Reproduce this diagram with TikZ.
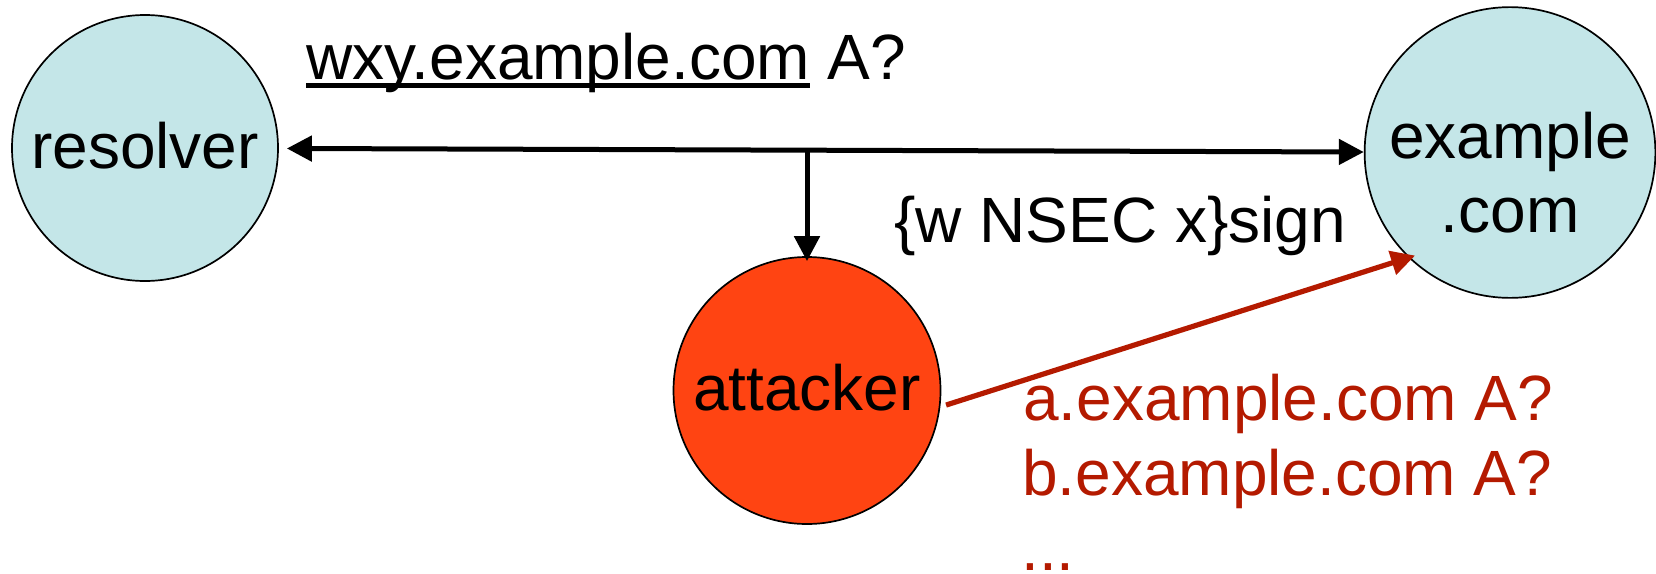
\documentclass[tikz,border=0pt]{standalone}
\usepackage{fontspec}
\setmainfont{Liberation Sans}
\usetikzlibrary{arrows.meta}
\definecolor{nodeblue}{RGB}{196,230,232}
\definecolor{attackfill}{RGB}{255,68,18}
\definecolor{queryred}{RGB}{180,26,0}
\newsavebox\ulinebox
\newcommand{\ulinetext}[1]{\sbox\ulinebox{#1}\rlap{\rule[-8.7pt]{\wd\ulinebox}{4.4pt}}\usebox\ulinebox}
\begin{document}
\begin{tikzpicture}[x=1pt,y=-1pt,
  bigfont/.style={font=\fontsize{64}{74}\selectfont},
  host/.style={circle, draw=black, line width=1.7pt, inner sep=0pt, bigfont},
  onetext/.style={text height=40.5pt, text depth=0pt},
  lbl/.style={bigfont, inner sep=0pt, anchor=base west},
  blackarrow/.style={line width=5pt, draw=black},
  redarrow/.style={line width=5.2pt, draw=queryred, -{Triangle[length=24pt,width=24pt]}}
]
\useasboundingbox (0,0) rectangle (1656,573);

\node[host, onetext, fill=nodeblue, minimum size=266pt] (resolver) at (145,148) {resolver};
\node[host, onetext, fill=attackfill, minimum size=267pt] (attacker) at (807,390.5) {attacker};
\node[host, fill=nodeblue, minimum size=288pt, align=center] (example) at (1510,152.5) {\rule{0pt}{87.6pt}example\\.com};

\coordinate (split) at (807,150);

\draw[blackarrow, {Triangle[length=25pt,width=25pt]}-{Triangle[length=25pt,width=25pt]}, shorten <=8pt] (resolver) -- (example);
\draw[blackarrow, -{Triangle[length=25pt,width=25pt]}, shorten >=-5pt] (split) -- (attacker);
\draw[redarrow, shorten <=6pt, shorten >=-7pt] (attacker.353) -- (example.226);

\node[lbl] (query) at (306,79) {\ulinetext{wxy.example.com} A?};
\node[lbl] (nsec) at (894,242) {\{w NSEC x\}sign};
\node[lbl, text=queryred] (qa) at (1023,420) {a.example.com A?};
\node[lbl, text=queryred] (qb) at (1022,495) {b.example.com A?};
\node[lbl, text=queryred] (qdots) at (1021,570) {...};
\end{tikzpicture}
\end{document}
